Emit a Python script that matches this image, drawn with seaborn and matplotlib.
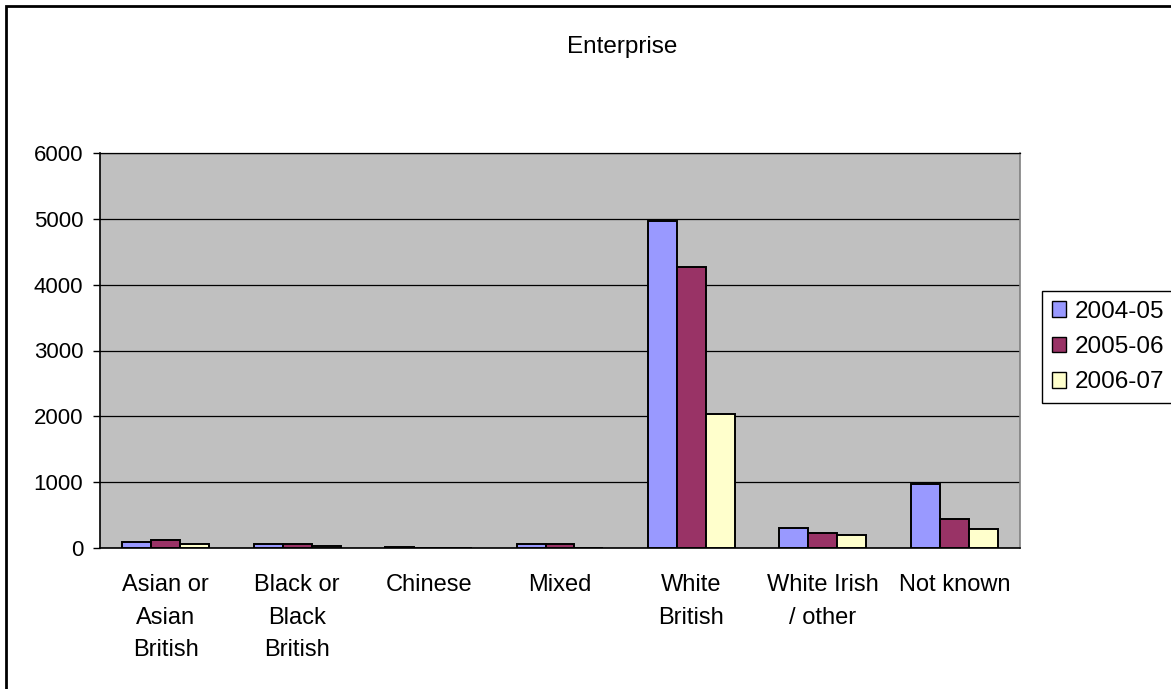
import matplotlib
matplotlib.use("Agg")
import matplotlib.pyplot as plt
from matplotlib.patches import Rectangle
import seaborn as sns
import pandas as pd

# Enterprise counts by ethnic group, three academic years
categories = ["Asian or\nAsian\nBritish", "Black or\nBlack\nBritish", "Chinese", "Mixed",
              "White\nBritish", "White Irish\n/ other", "Not known"]
years = ["2004-05", "2005-06", "2006-07"]
v_2004_05 = [85, 55, 20, 55, 4960, 300, 965]
v_2005_06 = [115, 55, 0, 55, 4265, 230, 445]
v_2006_07 = [60, 25, 0, 0, 2030, 195, 295]
y_ticks = [0, 1000, 2000, 3000, 4000, 5000, 6000]
colors = ["#9999FF", "#993366", "#FFFFCC"]

rows = []
for yr, vals in zip(years, [v_2004_05, v_2005_06, v_2006_07]):
    for cat, v in zip(categories, vals):
        rows.append({"group": cat, "year": yr, "count": v})
df = pd.DataFrame(rows)

sns.set_theme(style="white")
plt.rcParams["font.family"] = ["Liberation Sans", "DejaVu Sans"]
plt.rcParams["text.color"] = "black"
plt.rcParams["xtick.color"] = "black"
plt.rcParams["ytick.color"] = "black"
plt.rcParams["xtick.labelcolor"] = "black"
plt.rcParams["ytick.labelcolor"] = "black"

W, H = 1171, 689
fig = plt.figure(figsize=(W / 100, H / 100), dpi=100)
fig.patch.set_facecolor("white")
ax = fig.add_axes([100 / W, 1 - 548 / H, 920 / W, 395 / H])
ax.set_facecolor("#C0C0C0")

sns.barplot(data=df, x="group", y="count", hue="year", order=categories,
            hue_order=years, palette=colors, saturation=1, width=0.66,
            edgecolor="black", linewidth=1.4, ax=ax, legend=False, zorder=3)

ax.set_ylim(0, 6000)
ax.set_xlim(-0.5, len(categories) - 0.5)
ax.set_yticks(y_ticks)
ax.set_yticklabels([str(t) for t in y_ticks], fontsize=16)
ax.yaxis.grid(True, color="black", linewidth=0.9, zorder=0)
ax.set_axisbelow(True)
ax.set_xlabel("")
ax.set_ylabel("")

# category labels centred, tick marks on the group boundaries
ax.set_xticks(range(len(categories)))
ax.set_xticklabels(categories, fontsize=17, linespacing=1.6, va="top")
ax.tick_params(axis="x", which="major", length=0, pad=19)
ax.set_xticks([i - 0.5 for i in range(len(categories) + 1)], minor=True)
ax.tick_params(axis="x", which="minor", length=6, width=1, color="black", direction="out")
ax.tick_params(axis="y", which="major", length=5, width=1, color="black",
               direction="out", pad=7, left=True)

for side in ["left", "bottom"]:
    ax.spines[side].set_color("black")
    ax.spines[side].set_linewidth(1.2)
ax.spines["right"].set_color("#808080")
ax.spines["right"].set_linewidth(1.2)
ax.spines["top"].set_color("black")
ax.spines["top"].set_linewidth(0.9)

fig.text(622 / W, 1 - 47 / H, "Enterprise", ha="center", va="center", fontsize=17.5)

handles = [Rectangle((0, 0), 1, 1, facecolor=c, edgecolor="black", linewidth=1) for c in colors]
leg = fig.legend(handles, years, loc="upper left",
                 bbox_to_anchor=(1042 / W, 1 - 291 / H), bbox_transform=fig.transFigure,
                 fontsize=17.5, frameon=True, fancybox=False, framealpha=1,
                 edgecolor="black", handlelength=0.6, handleheight=0.6,
                 handletextpad=0.35, labelspacing=0.55, borderpad=0.4, borderaxespad=0)
leg.get_frame().set_linewidth(1.0)

# chart border
fig.patches.append(Rectangle((6 / W, -0.2), 1.3, 1.2 - 6 / H, transform=fig.transFigure,
                             fill=False, edgecolor="black", linewidth=2.0, zorder=10))

fig.savefig("out.png", dpi=100, facecolor="white")
